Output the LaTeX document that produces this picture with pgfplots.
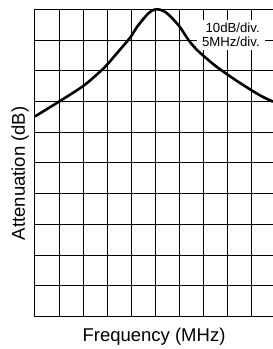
\documentclass[border=0pt]{standalone}
\usepackage{fontspec}
\setmainfont{Liberation Sans}
\usepackage{pgfplots}
\pgfplotsset{compat=1.18}
\begin{document}
\begin{tikzpicture}
\begin{axis}[
  at={(0,0)}, anchor=south west,
  scale only axis, width=238pt, height=307.2pt,
  xmin=0, xmax=49.38, ymin=-100, ymax=0,
  axis line style={draw=none},
  xtick={0,5,...,45}, ytick={-100,-90,...,0},
  xticklabels={}, yticklabels={},
  major tick length=0pt,
  grid=major, grid style={black, line width=1pt, solid},
  xlabel={Frequency (MHz)}, ylabel={Attenuation (dB)},
  xlabel style={at={(rel axis cs:0.5,0)}, anchor=base, yshift=-25.2pt, font=\fontsize{18.5}{20}\selectfont},
  ylabel style={at={(axis cs:-2.075,-53.4)}, anchor=base, font=\fontsize{18.5}{20}\selectfont},
  clip=false,
]
\node[fill=white, align=right, anchor=north east, inner xsep=5pt, inner ysep=3pt, font=\fontsize{13.2}{14}\selectfont] at (axis cs:47.7,-3.48) {10dB/div.\\5MHz/div.};
\addplot[black, line width=2.6pt, smooth, tension=0.5] coordinates {
(0,-34.87) (5.04,-29.99) (10.02,-24.95) (13.49,-20.30) (15.0,-17.96) (17.22,-13.89)
(19.36,-9.99) (20.06,-8.52) (21.16,-5.76) (22.47,-3.16) (23.5,-1.37) (24.38,-0.33)
(25.25,0) (26.14,-0.23) (27.18,-1.04) (28.42,-2.83) (30.08,-5.8) (31.85,-9.99)
(33.4,-12.9) (34.92,-15.1) (37.35,-18.3) (39.98,-21.3) (42.53,-23.98)
(44.81,-26.25) (47.1,-28.37) (49.38,-30.06)
};
\end{axis}
\pgfresetboundingbox
\useasboundingbox (-35pt,-32.5pt) rectangle (238pt,316.5pt);
\end{tikzpicture}
\end{document}
